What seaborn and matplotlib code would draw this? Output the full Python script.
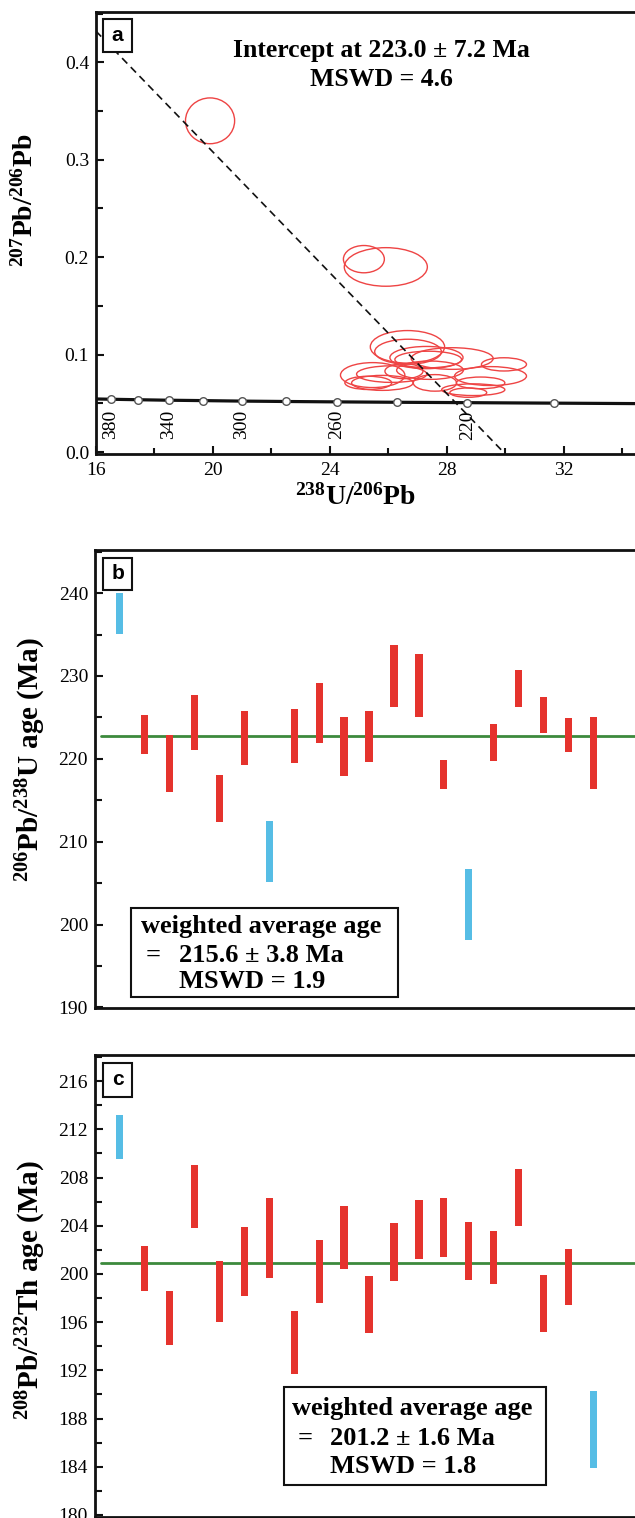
import numpy as np
import pandas as pd
import matplotlib
matplotlib.use("Agg")
import matplotlib.pyplot as plt
from matplotlib.patches import Ellipse, Rectangle
from matplotlib.ticker import MultipleLocator
import seaborn as sns

# ---------------- data ----------------
# Panel a: Tera-Wasserburg ellipses (centre and half-axes)
ell_x = [19.90, 25.16, 25.91, 26.65, 26.67, 27.30, 27.36, 28.18, 29.95, 29.49,
         25.46, 26.11, 26.53, 27.42, 25.31, 25.79, 27.59, 29.15, 28.90, 28.73]
ell_y = [0.340, 0.198, 0.190, 0.108, 0.103, 0.097, 0.095, 0.096, 0.090, 0.078,
         0.079, 0.080, 0.083, 0.084, 0.071, 0.071, 0.071, 0.071, 0.064, 0.061]
ell_rx = [0.84, 0.70, 1.42, 1.27, 1.14, 1.25, 1.14, 1.40, 0.77, 1.23,
          1.10, 1.20, 0.65, 1.14, 0.80, 1.05, 0.74, 0.83, 1.08, 0.63]
ell_ry = [0.0235, 0.0140, 0.0198, 0.0167, 0.0128, 0.0114, 0.0085, 0.0111, 0.0068, 0.0097,
          0.0128, 0.0085, 0.0077, 0.0094, 0.0068, 0.0077, 0.0085, 0.0060, 0.0060, 0.0048]

# concordia markers
conc_age = [380, 360, 340, 320, 300, 280, 260, 240, 220, 200]
conc_x = [16.50, 17.45, 18.48, 19.67, 20.98, 22.48, 24.23, 26.28, 28.70, 31.65]
conc_y = [0.0542, 0.0537, 0.0532, 0.0528, 0.0523, 0.0519, 0.0515, 0.0511, 0.0507, 0.0502]
conc_label_ages = [380, 340, 300, 260, 220]
curve_x = [16.0] + conc_x + [34.7]
curve_y = [0.0545] + conc_y + [0.0497]

# discordia line
disc_x = [16.0, 29.93]
disc_y = [0.432, 0.0]

# Panel b: 206Pb/238U ages (error bar low / high)
b_low = [235.1, 220.6, 216.0, 221.1, 212.4, 219.3, 205.2, 219.5, 221.9, 217.9,
         219.6, 226.2, 225.1, 216.4, 198.1, 219.7, 226.3, 223.1, 220.8, 216.4]
b_high = [240.0, 225.3, 222.9, 227.7, 218.1, 225.8, 212.5, 226.0, 229.1, 225.0,
          225.8, 233.7, 232.6, 219.9, 206.7, 224.2, 230.7, 227.5, 224.9, 225.1]
b_rejected = [1, 7, 15]
b_mean = 222.8

# Panel c: 208Pb/232Th ages
c_low = [209.5, 198.6, 194.1, 203.8, 196.0, 198.2, 199.7, 191.7, 197.6, 200.4,
         195.1, 199.4, 201.25, 201.4, 199.5, 199.2, 204.0, 195.2, 197.4, 183.9]
c_high = [213.2, 202.3, 198.6, 209.0, 201.1, 203.9, 206.3, 196.9, 202.8, 205.6,
          199.8, 204.2, 206.1, 206.3, 204.3, 203.6, 208.7, 199.9, 202.1, 190.25]
c_rejected = [1, 20]
c_mean = 200.9

# ---------------- style ----------------
sns.set_theme(style="ticks")
plt.rcParams["font.family"] = ["Liberation Serif", "DejaVu Serif"]
plt.rcParams["mathtext.fontset"] = "custom"
plt.rcParams["mathtext.rm"] = "Liberation Serif:bold"
plt.rcParams["mathtext.it"] = "Liberation Serif:italic:bold"
plt.rcParams["mathtext.bf"] = "Liberation Serif:bold"
plt.rcParams["text.color"] = "black"
plt.rcParams["axes.labelcolor"] = "black"
plt.rcParams["xtick.color"] = "black"
plt.rcParams["ytick.color"] = "black"
plt.rcParams["axes.edgecolor"] = "black"

RED = "#E5332D"
BLUE = "#56BDE5"
GREEN = "#3C8A3C"
ELL = "#EE4444"

W, H = 635, 1518
fig = plt.figure(figsize=(W / 100, H / 100), dpi=100)


def add_ax(l, t, r, b):
    return fig.add_axes([l / W, 1 - b / H, (r - l) / W, (b - t) / H])


def style_axes(ax):
    for s in ax.spines.values():
        s.set_linewidth(2.0)
        s.set_color("#111111")
    ax.tick_params(which="both", direction="in", width=1.5, colors="#111111",
                   labelcolor="black", labelsize=14, pad=5)
    ax.tick_params(which="major", length=6)
    ax.tick_params(which="minor", length=5)


def label_box(ax, x0, y0, x1, y1, letter):
    ax.add_patch(Rectangle((x0, y0), x1 - x0, y1 - y0, transform=ax.transAxes,
                           fc="white", ec="#111111", lw=1.5, zorder=5))
    ax.text((x0 + x1) / 2, (y0 + y1) / 2, letter, transform=ax.transAxes,
            ha="center", va="center", fontsize=15, fontweight="bold",
            family="Liberation Sans", color="black", zorder=6)


# ---------------- panel a ----------------
ax_a = add_ax(96, 11.7, 642, 454)
style_axes(ax_a)
ax_a.set_xlim(16, 34.67)
ax_a.set_ylim(-0.002, 0.452)
ax_a.xaxis.set_major_locator(MultipleLocator(4))
ax_a.xaxis.set_minor_locator(MultipleLocator(2))
ax_a.yaxis.set_major_locator(MultipleLocator(0.1))
ax_a.yaxis.set_minor_locator(MultipleLocator(0.05))
ax_a.yaxis.set_major_formatter(matplotlib.ticker.FormatStrFormatter("%.1f"))
ax_a.tick_params(axis="x", which="minor", length=4)
ax_a.tick_params(axis="x", pad=6)

for x, y, rx, ry in zip(ell_x, ell_y, ell_rx, ell_ry):
    ax_a.add_patch(Ellipse((x, y), 2 * rx, 2 * ry, fill=False, ec=ELL, lw=1.0, zorder=3))

curve_df = pd.DataFrame({"x": curve_x, "y": curve_y})
sns.lineplot(data=curve_df, x="x", y="y", ax=ax_a, color="#111111", lw=2.3,
             sort=False, estimator=None, zorder=2)
disc_df = pd.DataFrame({"x": disc_x, "y": disc_y})
sns.lineplot(data=disc_df, x="x", y="y", ax=ax_a, color="#111111", lw=1.2,
             linestyle=(0, (4.5, 3)), sort=False, estimator=None, zorder=4)
conc_df = pd.DataFrame({"x": conc_x, "y": conc_y, "age": conc_age})
sns.scatterplot(data=conc_df, x="x", y="y", ax=ax_a, s=30, color="white",
                edgecolor="#555555", linewidth=1.0, zorder=5)
for age, x in zip(conc_age, conc_x):
    if age in conc_label_ages:
        ax_a.text(x, 0.028, str(age), rotation=90, ha="center", va="center",
                  fontsize=14, zorder=6)
ax_a.set_xlabel("")
ax_a.set_ylabel("")
ax_a.text(0.522, 0.913, "Intercept at 223.0 ± 7.2 Ma", transform=ax_a.transAxes,
          ha="center", va="center", fontsize=18.5, fontweight="bold")
ax_a.text(0.522, 0.846, "MSWD = 4.6", transform=ax_a.transAxes,
          ha="center", va="center", fontsize=18.5, fontweight="bold")
label_box(ax_a, 0.0129, 0.909, 0.0662, 0.9835, "a")
fig.text(355 / W, 1 - 497 / H, r"$^{238}$U/$^{206}$Pb", ha="center", va="center",
         fontsize=20, fontweight="bold")
fig.text(25 / W, 1 - 200 / H, r"$^{207}$Pb/$^{206}$Pb", ha="center", va="center",
         fontsize=20, fontweight="bold", rotation=90)


# ---------------- panels b and c ----------------
def age_panel(ax, low, high, rejected, mean, ylim, major, minor):
    style_axes(ax)
    n = len(low)
    idx = np.arange(1, n + 1)
    df = pd.DataFrame({"idx": idx, "low": low, "high": high})
    df["status"] = ["rejected" if i in rejected else "accepted" for i in idx]
    colors = [BLUE if s == "rejected" else RED for s in df["status"]]
    ax.bar(df["idx"], df["high"] - df["low"], bottom=df["low"], width=0.29,
           color=colors, edgecolor="none", zorder=3)
    mean_df = pd.DataFrame({"x": [0.25, 22.5], "y": [mean, mean]})
    sns.lineplot(data=mean_df, x="x", y="y", ax=ax, color=GREEN, lw=2.0,
                 estimator=None, zorder=2)
    ax.set_xlim(0.018, 21.94)
    ax.set_ylim(*ylim)
    ax.set_xticks([])
    ax.yaxis.set_major_locator(MultipleLocator(major))
    ax.yaxis.set_minor_locator(MultipleLocator(minor))
    ax.set_xlabel("")
    ax.set_ylabel("")


def result_box(ax, box, lines_y, x_text, x_eq, x_num, title, value, mswd):
    x0, y0, x1, y1 = box
    ax.add_patch(Rectangle((x0, y0), x1 - x0, y1 - y0, transform=ax.transAxes,
                           fc="white", ec="#111111", lw=1.5, zorder=5))
    kw = dict(transform=ax.transAxes, va="center", ha="left", fontsize=19,
              fontweight="bold", zorder=6)
    ax.text(x_text, lines_y[0], title, **kw)
    ax.text(x_eq, lines_y[1], "=", **kw)
    ax.text(x_num, lines_y[1], value, **kw)
    ax.text(x_num, lines_y[2], mswd, **kw)


ax_b = add_ax(95, 550, 642, 1008.3)
age_panel(ax_b, b_low, b_high, b_rejected, b_mean, (189.9, 245.2), 10, 5)
label_box(ax_b, 0.0147, 0.913, 0.068, 0.9826, "b")
result_box(ax_b, (0.066, 0.0247, 0.554, 0.219), (0.178, 0.116, 0.058),
           0.0839, 0.0917, 0.153, "weighted average age", "215.6 ± 3.8 Ma",
           "MSWD = 1.9")
fig.text(31 / W, 1 - 759 / H, r"$^{206}$Pb/$^{238}$U age (Ma)", ha="center",
         va="center", fontsize=21, fontweight="bold", rotation=90)

ax_c = add_ax(95, 1055, 642, 1516.5)
age_panel(ax_c, c_low, c_high, c_rejected, c_mean, (179.87, 218.17), 4, 2)
label_box(ax_c, 0.0147, 0.909, 0.068, 0.983, "c")
result_box(ax_c, (0.3455, 0.068, 0.824, 0.281), (0.233, 0.170, 0.109),
           0.361, 0.370, 0.429, "weighted average age", "201.2 ± 1.6 Ma",
           "MSWD = 1.8")
fig.text(31 / W, 1 - 1290 / H, r"$^{208}$Pb/$^{232}$Th age (Ma)", ha="center",
         va="center", fontsize=21, fontweight="bold", rotation=90)

fig.savefig("out.png", dpi=100)
